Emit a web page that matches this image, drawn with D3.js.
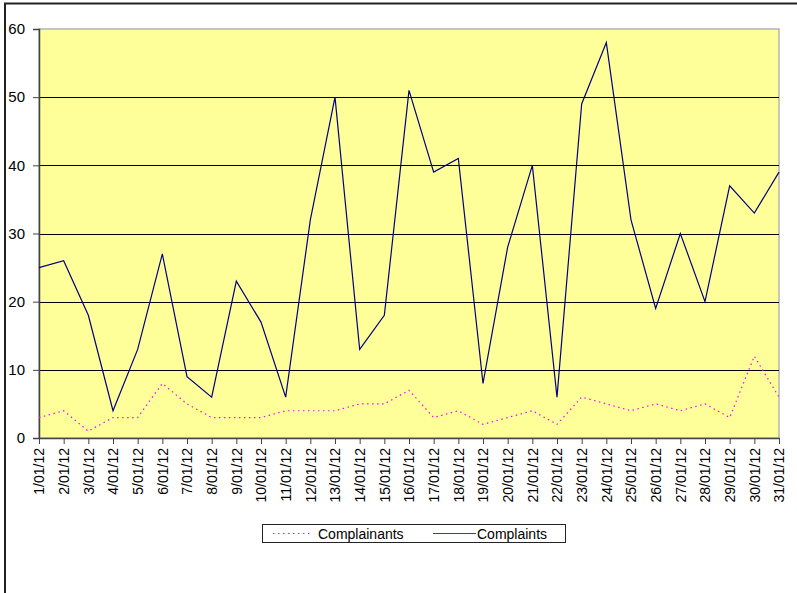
<!DOCTYPE html>
<html>
<head>
<meta charset="utf-8">
<script src="https://cdnjs.cloudflare.com/ajax/libs/d3/7.8.5/d3.min.js"></script>
<style>
  html, body { margin: 0; padding: 0; background: #fff; }
  svg { display: block; font-family: "Liberation Sans", Arial, sans-serif; }
</style>
</head>
<body>
<svg id="chart" width="797" height="593"></svg>
<script>
// Daily counts for January 2012
const dates = ["1/01/12","2/01/12","3/01/12","4/01/12","5/01/12","6/01/12","7/01/12","8/01/12","9/01/12","10/01/12",
  "11/01/12","12/01/12","13/01/12","14/01/12","15/01/12","16/01/12","17/01/12","18/01/12","19/01/12","20/01/12",
  "21/01/12","22/01/12","23/01/12","24/01/12","25/01/12","26/01/12","27/01/12","28/01/12","29/01/12","30/01/12","31/01/12"];
const complaints   = [25,26,18,4,13,27,9,6,23,17,6,32,50,13,18,51,39,41,8,28,40,6,49,58,32,19,30,20,37,33,39];
const complainants = [3,4,1,3,3,8,5,3,3,3,4,4,4,5,5,7,3,4,2,3,4,2,6,5,4,5,4,5,3,12,6];
const yTicks = [0,10,20,30,40,50,60];

const svg = d3.select("#chart");
const plot = { left: 39, right: 779, top: 29, bottom: 438 };

// outer chart frame
svg.append("rect").attr("x", 5).attr("y", 3.5).attr("width", 900).attr("height", 700)
  .attr("fill", "#fff").attr("stroke", "#222").attr("stroke-width", 2);

const x = d3.scalePoint().domain(dates).range([plot.left, plot.right]);
const y = d3.scaleLinear().domain([0, 60]).range([plot.bottom, plot.top]);

// plot area
svg.append("rect").attr("x", plot.left).attr("y", plot.top)
  .attr("width", plot.right - plot.left).attr("height", plot.bottom - plot.top)
  .attr("fill", "#FFFF99").attr("stroke", "#b4b4b4").attr("stroke-width", 1.5);

// horizontal gridlines
svg.append("g").selectAll("line").data(yTicks.filter(t => t > 0 && t < 60)).join("line")
  .attr("x1", plot.left).attr("x2", plot.right)
  .attr("y1", d => Math.round(y(d)) + 0.5).attr("y2", d => Math.round(y(d)) + 0.5)
  .attr("stroke", "#000").attr("stroke-width", 1);

// y axis
const yAxis = svg.append("g").attr("transform", `translate(${plot.left},0)`)
  .call(d3.axisLeft(y).tickValues(yTicks).tickSize(6).tickPadding(8));
yAxis.select(".domain").attr("stroke", "#444").attr("stroke-width", 1.5);
yAxis.selectAll(".tick line").attr("stroke", "#444");
yAxis.selectAll("text").attr("font-size", 15).attr("fill", "#000")
  .attr("font-family", "'Liberation Sans', Arial, sans-serif");

// x axis with rotated date labels
const xAxis = svg.append("g").attr("transform", `translate(0,${plot.bottom})`)
  .call(d3.axisBottom(x).tickSize(6).tickSizeOuter(0));
xAxis.select(".domain").attr("stroke", "#444").attr("stroke-width", 1.5);
xAxis.selectAll(".tick line").attr("stroke", "#444");
xAxis.selectAll("text")
  .attr("font-size", 14).attr("fill", "#000")
  .attr("font-family", "'Liberation Sans', Arial, sans-serif")
  .attr("transform", "rotate(-90)")
  .attr("text-anchor", "end")
  .attr("x", -10).attr("y", 0).attr("dy", "0.35em");

const line = vals => d3.line().x((d, i) => x(dates[i])).y(d => y(d))(vals);

svg.append("path").attr("d", line(complainants))
  .attr("fill", "none").attr("stroke", "#FF00FF").attr("stroke-width", 1.2)
  .attr("stroke-dasharray", "1.5,3.5");

svg.append("path").attr("d", line(complaints))
  .attr("fill", "none").attr("stroke", "#000080").attr("stroke-width", 1.2);

// legend
const lg = svg.append("g");
lg.append("rect").attr("x", 262.5).attr("y", 524.5).attr("width", 303).attr("height", 18)
  .attr("fill", "#fff").attr("stroke", "#222").attr("stroke-width", 1);
lg.append("line").attr("x1", 273).attr("x2", 311).attr("y1", 533.5).attr("y2", 533.5)
  .attr("stroke", "#FF00FF").attr("stroke-width", 1.2).attr("stroke-dasharray", "1.5,3.5");
lg.append("text").attr("x", 318).attr("y", 538.5).attr("font-size", 14).text("Complainants");
lg.append("line").attr("x1", 433).attr("x2", 476).attr("y1", 533.5).attr("y2", 533.5)
  .attr("stroke", "#3a3aa0").attr("stroke-width", 1.2);
lg.append("text").attr("x", 477).attr("y", 538.5).attr("font-size", 14).text("Complaints");
</script>
</body>
</html>
